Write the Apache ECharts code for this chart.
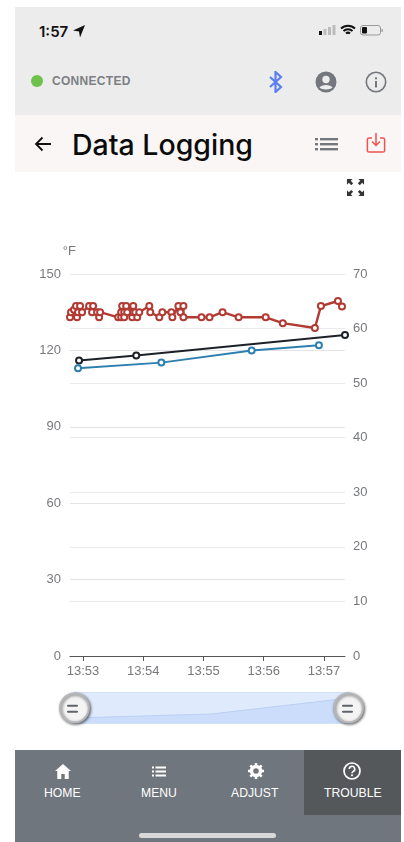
<!DOCTYPE html>
<html><head><meta charset="utf-8">
<style>
html,body{margin:0;padding:0;background:#fff;width:404px;height:842px;overflow:hidden;font-family:"Liberation Sans",Arimo,sans-serif}
#chart{position:absolute;left:0;top:172px;width:404px;height:578px}
.b{position:absolute}
.t{position:absolute;white-space:nowrap}
</style>
<script src="https://cdn.jsdelivr.net/npm/echarts@6/dist/echarts.min.js"></script>
</head><body>
<div class="b" style="left:15px;top:7px;width:386px;height:108px;background:#ececec"></div>
<div class="b" style="left:15px;top:115px;width:386px;height:57px;background:#faf6f6"></div>
<div class="b" style="left:15px;top:750px;width:386px;height:92px;background:#6f767d"></div>
<div class="b" style="left:304px;top:750px;width:97px;height:65px;background:#54585b"></div>
<div class="b" style="left:139px;top:833px;width:137px;height:5px;border-radius:3px;background:#d8d8d8"></div>

<div class="t" style="left:39px;top:22px;font:600 15px 'Inter',sans-serif;color:#111">1:57</div>
<svg class="b" style="left:72px;top:24px" width="14" height="14" viewBox="0 0 14 14"><path d="M13 1L1 6.5 7 7.5 8 13.5z" fill="#111"/></svg>
<svg class="b" style="left:318px;top:23px" width="68" height="14" viewBox="0 0 68 14">
<rect x="1" y="8" width="3" height="4" fill="#111"/><rect x="5.5" y="6" width="3" height="6" fill="#bbb"/><rect x="10" y="4" width="3" height="8" fill="#bbb"/><rect x="14.5" y="2" width="3" height="10" fill="#bbb"/>
<path d="M23 5.5a10 10 0 0 1 14 0M25.5 8a6.5 6.5 0 0 1 9 0M28 10.5a3 3 0 0 1 4 0" fill="none" stroke="#111" stroke-width="2"/>
<rect x="42.5" y="2.5" width="20" height="9.5" rx="2.5" fill="none" stroke="#999"/><rect x="44" y="4" width="5" height="6.5" rx="1" fill="#111"/><rect x="63.5" y="6" width="1.2" height="3" fill="#999"/></svg>

<div class="b" style="left:31px;top:75px;width:12px;height:12px;border-radius:50%;background:#6cc24a"></div>
<div class="t" style="left:52px;top:74px;font:700 12px 'Liberation Sans',sans-serif;color:#7c8085;letter-spacing:.3px">CONNECTED</div>
<svg class="b" style="left:268px;top:71px" width="16" height="22" viewBox="0 0 16 22"><path d="M2 6l11 10-5.5 5V1L13 6 2 16" fill="none" stroke="#5b7ff0" stroke-width="2.2"/></svg>
<svg class="b" style="left:315px;top:71px" width="22" height="22" viewBox="0 0 22 22"><circle cx="11" cy="11" r="10.5" fill="#74787d"/><circle cx="11" cy="8.5" r="3.7" fill="#ececec"/><path d="M4.5 16.5c2-3.5 11-3.5 13 0-2 2.6-11 2.6-13 0z" fill="#ececec"/></svg>
<svg class="b" style="left:365px;top:71px" width="22" height="22" viewBox="0 0 22 22"><circle cx="11" cy="11" r="9.7" fill="none" stroke="#74787d" stroke-width="1.6"/><rect x="10" y="10" width="2" height="6.5" fill="#74787d"/><rect x="10" y="6.3" width="2" height="2" fill="#74787d"/></svg>

<svg class="b" style="left:34px;top:135px" width="18" height="18" viewBox="0 0 18 18"><path d="M17 9H2M8.5 2.5L2 9l6.5 6.5" fill="none" stroke="#111" stroke-width="1.8"/></svg>
<div class="t" style="left:72px;top:127px;font:500 28.500px 'Inter',sans-serif;color:#0b0b0b">Data Logging</div>
<svg class="b" style="left:315px;top:136px" width="23" height="16" viewBox="0 0 23 16"><g fill="#74787d"><rect x="0" y="2" width="3" height="2.4"/><rect x="0" y="7" width="3" height="2.4"/><rect x="0" y="12" width="3" height="2.4"/><rect x="5" y="2" width="18" height="2.4"/><rect x="5" y="7" width="18" height="2.4"/><rect x="5" y="12" width="18" height="2.4"/></g></svg>
<svg class="b" style="left:366px;top:132px" width="20" height="22" viewBox="0 0 20 22"><path d="M6 6H3a1.6 1.6 0 0 0-1.6 1.6v10.8A1.6 1.6 0 0 0 3 20h14a1.6 1.6 0 0 0 1.6-1.6V7.6A1.6 1.6 0 0 0 17 6h-3M10 1v12M6 9.5l4 4 4-4" fill="none" stroke="#ef5350" stroke-width="1.5"/></svg>
<svg class="b" style="left:346px;top:178px" width="19" height="19" viewBox="0 0 20 20"><g fill="#333"><path d="M1 1h6L5 3l2.500 2.500-2 2L3 5 1 7zM19 1v6l-2-2-2.500 2.500-2-2L15 3l-2-2zM1 19v-6l2 2 2.500-2.500 2 2L5 17l2 2zM19 19h-6l2-2-2.500-2.500 2-2L17 15l2-2z"/></g></svg>

<svg class="b" style="left:55px;top:764px" width="16" height="15" viewBox="0 0 16 15"><path d="M8 0L0 7h2.300v8h4V10h3.400v5h4V7H16z" fill="#fff"/></svg>
<div class="t" style="left:44px;top:786px;font:12.200px 'Liberation Sans',sans-serif;color:#fff">HOME</div>
<svg class="b" style="left:152px;top:766px" width="14" height="11" viewBox="0 0 14 11"><g fill="#fff"><rect y="0.500" width="2" height="2"/><rect y="4.500" width="2" height="2"/><rect y="8.500" width="2" height="2"/><rect x="3.500" y="0.500" width="10.500" height="2"/><rect x="3.500" y="4.500" width="10.500" height="2"/><rect x="3.500" y="8.500" width="10.500" height="2"/></g></svg>
<div class="t" style="left:141px;top:786px;font:12.200px 'Liberation Sans',sans-serif;color:#fff">MENU</div>
<svg class="b" style="left:248px;top:763px" width="16" height="16" viewBox="0 0 16 16"><circle cx="8" cy="8" r="4.500" fill="none" stroke="#fff" stroke-width="3.500"/><g stroke="#fff" stroke-width="2.600"><path d="M8 0v3M8 13v3M0 8h3M13 8h3M2.300 2.300l2 2M11.700 11.700l2 2M2.300 13.700l2-2M11.700 4.300l2-2"/></g></svg>
<div class="t" style="left:231px;top:786px;font:12.200px 'Liberation Sans',sans-serif;color:#fff">ADJUST</div>
<svg class="b" style="left:343px;top:762px" width="18" height="18" viewBox="0 0 18 18"><circle cx="9" cy="9" r="8" fill="none" stroke="#fff" stroke-width="1.700"/><path d="M6.300 7a2.700 2.700 0 1 1 4 2.400C9.300 10 9 10.500 9 11.300" fill="none" stroke="#fff" stroke-width="1.600"/><rect x="8.100" y="12.400" width="1.800" height="1.800" fill="#fff"/></svg>
<div class="t" style="left:324px;top:786px;font:12.200px 'Liberation Sans',sans-serif;color:#fff">TROUBLE</div>

<div id="chart"></div>
<svg class="b" style="left:60px;top:700px" width="300" height="20" viewBox="0 0 300 20"><g stroke="#5f646a" stroke-width="2" stroke-linecap="round"><path d="M8 5.700h9M8 11.700h9M283 5.700h9M283 11.700h9"/></g></svg>
<script>
const redTimes=["13:52:47","13:52:48","13:52:51","13:52:53","13:52:54","13:52:55","13:52:57","13:52:59","13:53:06","13:53:09","13:53:10","13:53:14","13:53:16","13:53:17","13:53:35","13:53:38","13:53:38","13:53:39","13:53:41","13:53:43","13:53:41","13:53:44","13:53:50","13:53:49","13:53:50","13:53:52","13:53:54","13:53:56","13:54:06","13:54:07","13:54:16","13:54:19","13:54:28","13:54:29","13:54:35","13:54:37","13:54:40","13:54:40","13:54:58","13:55:06","13:55:19","13:55:35","13:56:02","13:56:19","13:56:51","13:56:57","13:57:14","13:57:18"];
const redValues=[133,135,136,137.4,133,135,137.4,135,137.4,135,137.4,135,133,135,133,133,135,137.4,135,137.4,133,135,137.4,133,135,135,133,135,137.4,135,133,135,135,133,137.4,135,137.4,133,133,133,135,133,133,130.7,128.8,137.4,139.4,137.2];
const blackTimes=["13:52:56","13:53:53","13:57:21"];
const blackValues=[116,118,126];
const blueTimes=["13:52:55","13:54:18","13:55:48","13:56:55"];
const blueValues=[113,115.2,120,122];
const sliderTimes=["13:52:47","13:55:04","13:57:21"];
const sliderValues=[116,118,126];
const xMinTime="13:52:47", xMaxTime="13:57:21";
const T=s=>new Date("2023-01-01T"+s).getTime();
const pair=(a,b)=>a.map((t,i)=>[T(t),b[i]]);
const chart=echarts.init(document.getElementById('chart'),null,{renderer:'canvas'});
const lab={color:'#77797c',fontSize:13,fontFamily:'Liberation Sans'};
const sym=(color,size,w)=>({type:'line',symbol:'circle',symbolSize:size,showSymbol:true,showAllSymbols:true,lineStyle:{color,width:w},itemStyle:{color:'#fff',borderColor:color,borderWidth:2},animation:false});
chart.setOption({
 animation:false,
 grid:{left:70,right:59,top:102,height:382},
 xAxis:{type:'time',min:T(xMinTime),max:T(xMaxTime),minInterval:60000,maxInterval:60000,
  axisLine:{lineStyle:{color:'#555',width:1}},axisTick:{show:true,length:5,lineStyle:{color:'#555'}},
  splitLine:{show:false},minorTick:{show:false},
  axisLabel:{...lab,margin:9,showMinLabel:false,showMaxLabel:false,hideOverlap:false,formatter:'{HH}:{mm}'}},
 yAxis:[
  {type:'value',min:0,max:150,interval:30,name:'°F',nameLocation:'end',nameGap:16,
   nameTextStyle:{...lab,align:'right',padding:[0,-6,0,0]},
   axisLine:{show:false},axisTick:{show:false},axisLabel:{...lab,margin:9,padding:[2,0,0,0]},
   splitLine:{lineStyle:{color:'#e4e4e6',width:1}}},
  {type:'value',min:0,max:70,interval:10,position:'right',
   axisLine:{show:false},axisTick:{show:false},axisLabel:{...lab,margin:8,padding:[2,0,0,0]},
   splitLine:{lineStyle:{color:'#e9e9ee',width:1}}}
 ],
 dataZoom:[{type:'slider',xAxisIndex:0,left:71,right:57,top:520,height:32,start:0,end:100,
   backgroundColor:'#e8f0fd',fillerColor:'rgba(190,212,250,0.2)',borderColor:'#d3e0f7',
   showDetail:false,showDataShadow:true,brushSelect:false,
   handleIcon:'circle',handleSize:'90%',
   handleStyle:{color:'#f4f4f4',borderColor:'#b4b6b8',borderWidth:2,shadowBlur:3,shadowColor:'rgba(0,0,0,.55)',shadowOffsetX:1,shadowOffsetY:1},
   moveHandleSize:0,
   dataBackground:{lineStyle:{color:'#b9cff2',width:1},areaStyle:{color:'#cfe0fa',opacity:1}},
   selectedDataBackground:{lineStyle:{color:'#b9cff2',width:1},areaStyle:{color:'#cfe0fa',opacity:1}}}],
 series:[
  {type:'line',name:'sliderShadow',yAxisIndex:0,symbol:'none',silent:true,lineStyle:{opacity:0},itemStyle:{opacity:0},data:pair(sliderTimes,sliderValues)},
  {...sym('#1d2128',6,2),name:'black',yAxisIndex:0,data:pair(blackTimes,blackValues)},
  {...sym('#b23a33',6,2.4),name:'red',yAxisIndex:0,data:pair(redTimes,redValues)},
  {...sym('#2d7fb0',6,2),name:'blue',yAxisIndex:0,data:pair(blueTimes,blueValues)}
 ]
});
</script>
</body></html>
